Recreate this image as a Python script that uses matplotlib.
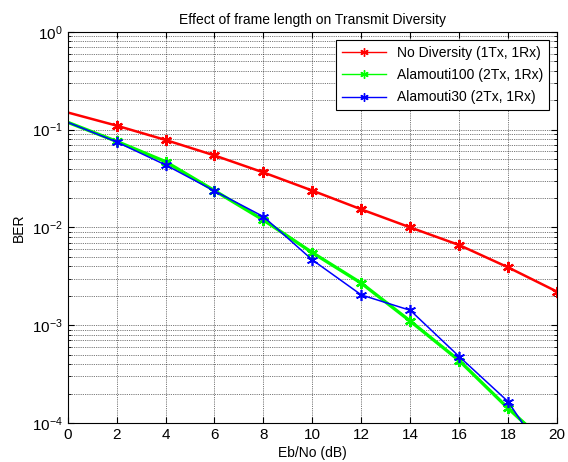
import math
import matplotlib
matplotlib.use("Agg")
import matplotlib.pyplot as plt
from matplotlib.ticker import LogLocator, FixedLocator, FuncFormatter, NullFormatter

plt.rcParams['font.family'] = ['Liberation Sans', 'DejaVu Sans']
plt.rcParams['mathtext.fontset'] = 'custom'
plt.rcParams['mathtext.rm'] = 'Liberation Sans'
plt.rcParams['mathtext.it'] = 'Liberation Sans:italic'

# Eb/No points (dB)
ebno = [0, 2, 4, 6, 8, 10, 12, 14, 16, 18, 20]

# BER per scheme
ber_no_div = [0.150, 0.110, 0.0785, 0.0545, 0.0365, 0.0238, 0.0153, 0.0100, 0.0066, 0.0039, 0.0022]
ber_ala100 = [0.119, 0.0760, 0.0471, 0.0238, 0.0119, 0.00552, 0.00269, 0.00110, 0.000434, 0.000141, 0.000049]
ber_ala30 = [0.119, 0.0750, 0.0436, 0.0236, 0.0129, 0.00465, 0.00204, 0.00142, 0.000477, 0.000165, 0.000029]

labels = ['No Diversity (1Tx, 1Rx)', 'Alamouti100 (2Tx, 1Rx)', 'Alamouti30 (2Tx, 1Rx)']
x_ticks = [0, 2, 4, 6, 8, 10, 12, 14, 16, 18, 20]
y_ticks = [1e-4, 1e-3, 1e-2, 1e-1, 1e0]

fig = plt.figure(figsize=(5.68, 4.62), dpi=100)
ax = fig.add_axes([0.119, 0.0844, 0.862, 0.8466])

ast = (6, 2, 0)
mk = slice(1, None)
ax.semilogy(ebno, ber_no_div, color='#ff0000', lw=1.8, marker=ast, ms=8, mew=1.6,
            markevery=mk, label=labels[0])
ax.semilogy(ebno, ber_ala100, color='#00ff00', lw=2.4, marker=ast, ms=8, mew=1.6,
            markevery=mk, label=labels[1])
ax.semilogy(ebno, ber_ala30, color='#0000ff', lw=1.1, marker=ast, ms=8, mew=1.2,
            markevery=mk, label=labels[2])

ax.set_xlim(0, 20)
ax.set_ylim(1e-4, 1e0)
ax.xaxis.set_major_locator(FixedLocator(x_ticks))
ax.yaxis.set_major_locator(FixedLocator(y_ticks))
ax.yaxis.set_minor_locator(LogLocator(base=10, subs=range(2, 10)))
ax.yaxis.set_minor_formatter(NullFormatter())
ax.yaxis.set_major_formatter(FuncFormatter(lambda v, p: r'$10^{%d}$' % round(math.log10(v))))

grid_kw = dict(color='k', linestyle=(0, (1, 1.2)), linewidth=0.6, alpha=0.7)
ax.grid(True, which='major', axis='both', **grid_kw)
ax.grid(True, which='minor', axis='y', **grid_kw)
ax.set_axisbelow(True)

ax.tick_params(axis='both', which='both', direction='in', top=True, right=True, labelsize=11)
ax.tick_params(which='major', length=4)
ax.tick_params(which='minor', length=2)
for s in ax.spines.values():
    s.set_linewidth(0.8)

ax.set_title('Effect of frame length on Transmit Diversity', fontsize=10, pad=6)
ax.set_xlabel('Eb/No (dB)', fontsize=10, labelpad=3)
ax.set_ylabel('BER', fontsize=10, labelpad=4)

leg = ax.legend(loc='upper right', fontsize=10, fancybox=False, framealpha=1,
                edgecolor='k', borderaxespad=0.6, handlelength=3.2, labelspacing=0.6)
leg.get_frame().set_linewidth(0.8)
for h in leg.get_lines():
    h.set_linewidth(1.0)
    h.set_markersize(6)
    h.set_markeredgewidth(1.0)

fig.savefig('out.png', dpi=100)
